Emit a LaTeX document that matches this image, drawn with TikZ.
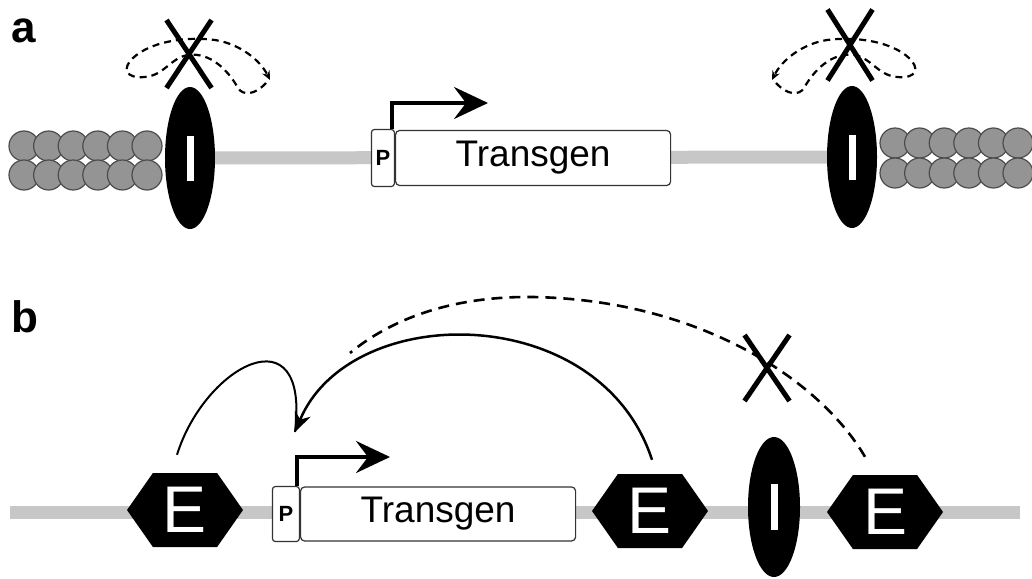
\documentclass[tikz,border=0pt]{standalone}
\usepackage{fontspec}
\setmainfont{Liberation Sans}
\usepackage{tikz}
\usetikzlibrary{arrows.meta,shapes.geometric,shapes.symbols,shapes.misc}

\tikzset{
  dna/.style={line width=13pt,draw=black!22},
  nuc/.style={fill=black!42,draw=black!70,line width=1.2pt},
  insul/.style={ellipse,fill=black,minimum width=50,minimum height=142,inner sep=0},
  ibar/.style={rectangle,fill=white,minimum width=7,minimum height=45,inner sep=0},
  enh/.style={signal,signal to=east and west,signal pointer angle=110,fill=black,
    minimum width=116,minimum height=74,inner sep=0,text=white,
    font=\fontsize{66}{66}\selectfont},
  gene/.style={rectangle,rounded corners=4pt,draw=black!80,line width=1.2pt,fill=white,
    inner sep=0,font=\fontsize{37}{37}\selectfont},
  prom/.style={rectangle,rounded corners=3pt,draw=black!80,line width=1.2pt,fill=white,
    inner sep=0,font=\bfseries\fontsize{22}{22}\selectfont},
  tss/.style={line width=4pt,-{Stealth[length=34pt,width=32pt,inset=12pt]}},
  xmark/.style={cross out,draw=black,line width=5pt,inner sep=0},
  spread/.style={dash pattern=on 7pt off 5pt,line width=2.2pt,-{Stealth[length=9pt,width=8pt]}},
  actline/.style={line width=2pt},
  lab/.style={font=\bfseries\fontsize{44}{44}\selectfont,inner sep=0},
}

\begin{document}
\begin{tikzpicture}[x=1pt,y=-1pt]
\useasboundingbox (0,0) rectangle (1032,578);

% panel a
\node[lab,anchor=base west] (la) at (11,43) {a};
\coordinate (i1) at (190,158);
\coordinate (i2) at (852,157);
\draw[dna] (i1) -- (i2);
\foreach \i in {0,...,5} {
  \draw[nuc] (24+24.6*\i,146) circle (15);
  \draw[nuc] (895+24.6*\i,143) circle (15);
}
\foreach \i in {0,...,5} {
  \draw[nuc] (24+24.6*\i,175) circle (15);
  \draw[nuc] (895+24.6*\i,173) circle (15);
}
\node[insul] (ins1) at (i1) {};
\node[insul] (ins2) at (i2) {};
\node[ibar] at (ins1) {};
\node[ibar] at (ins2) {};

% spreading blocked
\draw[spread] (266,83) .. controls (255,95) and (243,96) .. (238,88)
  .. controls (228,70) and (210,52) .. (188,55)
  .. controls (170,58) and (165,75) .. (145,77)
  .. controls (125,79) and (122,68) .. (133,58)
  .. controls (150,42) and (185,36) .. (215,40)
  .. controls (240,44) and (260,60) .. (270,80);
\begin{scope}[xshift=1042pt,xscale=-1]
\draw[spread] (266,83) .. controls (255,95) and (243,96) .. (238,88)
  .. controls (228,70) and (210,52) .. (188,55)
  .. controls (170,58) and (165,75) .. (145,77)
  .. controls (125,79) and (122,68) .. (133,58)
  .. controls (150,42) and (185,36) .. (215,40)
  .. controls (240,44) and (260,60) .. (270,80);
\end{scope}
\node[xmark,minimum width=40,minimum height=63] (x1) at (189,54) {};
\node[xmark,minimum width=40,minimum height=66] (x2) at (850,45) {};

\node[gene,minimum width=275,minimum height=55,anchor=west] (tg1) at (395,158) {Transgen};
\node[prom,minimum width=23,minimum height=57,anchor=east] (p1) at (tg1.west) {P};
\coordinate (h1) at (488,103);
\draw[tss] ([xshift=-3]p1.north east) |- (h1);

% panel b
\node[lab,anchor=base west] (lb) at (11,332) {b};
\coordinate (dl) at (10,512);
\coordinate (dr) at (1020,512);
\draw[dna] (dl) -- (dr);
\node[enh] (e1) at (185,510) {E};
\node[enh] (e2) at (650,511) {E};
\node[enh] (e3) at (885,512) {E};
\node[insul,minimum width=52,minimum height=140] (ins3) at (774,507) {};
\node[ibar,minimum height=46] at (ins3) {};

\node[gene,minimum width=275,minimum height=54,anchor=west] (tg2) at (300,514) {Transgen};
\node[prom,minimum width=27,minimum height=55,anchor=east] (p2) at (tg2.west) {P};
\coordinate (h2) at (390,457);
\draw[tss] ([xshift=-3]p2.north east) |- (h2);

\coordinate (pt) at (295,432);
\coordinate (m) at (350,353);
\draw[actline] ([shift={(-8,-18)}]e1.north) .. controls (205,365) and (310,310) .. (pt);
\draw[actline,line width=2.5pt,-{Stealth[length=20pt,width=17pt]}]
  ([shift={(2,-14)}]e2.north) .. controls (600,300) and (350,300) .. (pt);
\draw[actline,line width=2.6pt,dash pattern=on 11pt off 7pt]
  ([shift={(-20,-18)}]e3.north) .. controls (820,380) and (700,300) .. (533,297)
  .. controls (450,296) and (390,320) .. (m);
\node[xmark,minimum width=40,minimum height=61] (x3) at (767,368) {};
\end{tikzpicture}
\end{document}
